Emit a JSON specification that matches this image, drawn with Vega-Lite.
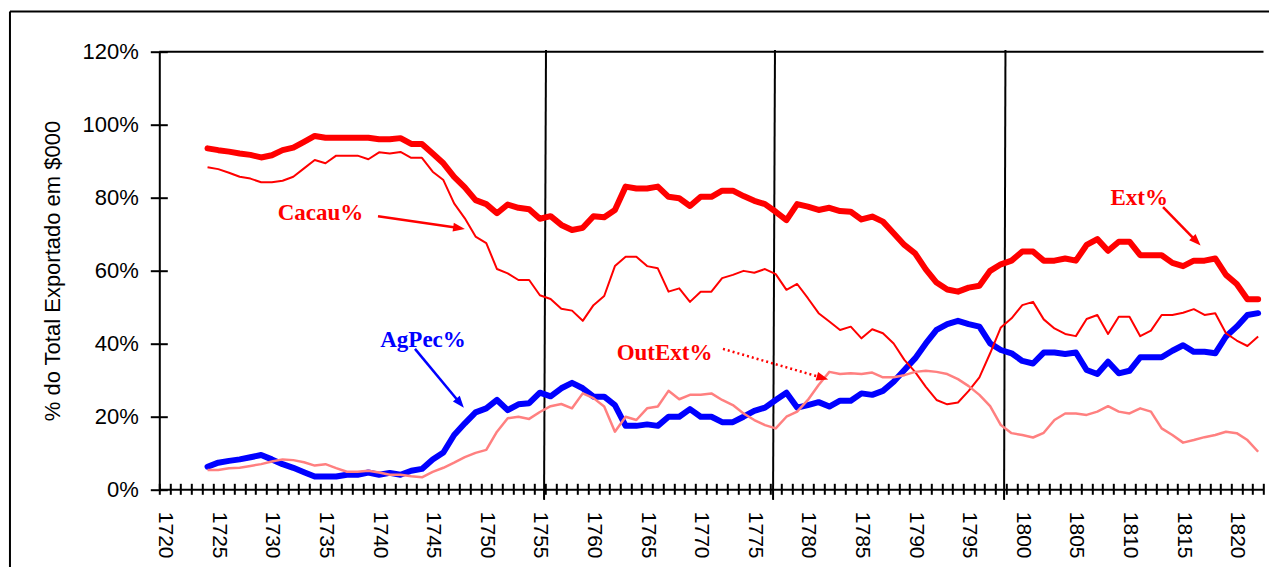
{
  "$schema": "https://vega.github.io/schema/vega-lite/v6.json",
  "width": 1104.2,
  "height": 437.6,
  "autosize": {"type": "none"},
  "padding": {"left": 159.3, "top": 51.7, "right": 5.5, "bottom": 77.7},
  "background": "white",
  "config": {"view": {"stroke": null}, "font": "Liberation Sans"},
  "datasets": {
    "series": [
      {"year":1724,"Ext":0.935,"Cacau":0.883,"AgPec":0.062,"OutExt":0.053},
      {"year":1725,"Ext":0.930,"Cacau":0.878,"AgPec":0.073,"OutExt":0.053},
      {"year":1726,"Ext":0.926,"Cacau":0.868,"AgPec":0.078,"OutExt":0.058},
      {"year":1727,"Ext":0.921,"Cacau":0.857,"AgPec":0.082,"OutExt":0.059},
      {"year":1728,"Ext":0.917,"Cacau":0.852,"AgPec":0.088,"OutExt":0.064},
      {"year":1729,"Ext":0.910,"Cacau":0.842,"AgPec":0.094,"OutExt":0.069},
      {"year":1730,"Ext":0.916,"Cacau":0.842,"AgPec":0.082,"OutExt":0.076},
      {"year":1731,"Ext":0.930,"Cacau":0.846,"AgPec":0.069,"OutExt":0.082},
      {"year":1732,"Ext":0.937,"Cacau":0.857,"AgPec":0.059,"OutExt":0.080},
      {"year":1733,"Ext":0.953,"Cacau":0.880,"AgPec":0.047,"OutExt":0.074},
      {"year":1734,"Ext":0.969,"Cacau":0.903,"AgPec":0.035,"OutExt":0.065},
      {"year":1735,"Ext":0.964,"Cacau":0.894,"AgPec":0.035,"OutExt":0.069},
      {"year":1736,"Ext":0.964,"Cacau":0.915,"AgPec":0.035,"OutExt":0.058},
      {"year":1737,"Ext":0.964,"Cacau":0.915,"AgPec":0.040,"OutExt":0.048},
      {"year":1738,"Ext":0.964,"Cacau":0.915,"AgPec":0.040,"OutExt":0.048},
      {"year":1739,"Ext":0.964,"Cacau":0.905,"AgPec":0.046,"OutExt":0.051},
      {"year":1740,"Ext":0.960,"Cacau":0.924,"AgPec":0.040,"OutExt":0.046},
      {"year":1741,"Ext":0.960,"Cacau":0.921,"AgPec":0.045,"OutExt":0.040},
      {"year":1742,"Ext":0.963,"Cacau":0.925,"AgPec":0.040,"OutExt":0.040},
      {"year":1743,"Ext":0.947,"Cacau":0.909,"AgPec":0.051,"OutExt":0.036},
      {"year":1744,"Ext":0.947,"Cacau":0.909,"AgPec":0.056,"OutExt":0.033},
      {"year":1745,"Ext":0.921,"Cacau":0.871,"AgPec":0.082,"OutExt":0.048},
      {"year":1746,"Ext":0.894,"Cacau":0.848,"AgPec":0.101,"OutExt":0.059},
      {"year":1747,"Ext":0.857,"Cacau":0.784,"AgPec":0.149,"OutExt":0.073},
      {"year":1748,"Ext":0.828,"Cacau":0.743,"AgPec":0.181,"OutExt":0.088},
      {"year":1749,"Ext":0.793,"Cacau":0.693,"AgPec":0.211,"OutExt":0.100},
      {"year":1750,"Ext":0.782,"Cacau":0.675,"AgPec":0.222,"OutExt":0.108},
      {"year":1751,"Ext":0.757,"Cacau":0.604,"AgPec":0.245,"OutExt":0.158},
      {"year":1752,"Ext":0.781,"Cacau":0.592,"AgPec":0.217,"OutExt":0.195},
      {"year":1753,"Ext":0.772,"Cacau":0.574,"AgPec":0.233,"OutExt":0.199},
      {"year":1754,"Ext":0.768,"Cacau":0.574,"AgPec":0.236,"OutExt":0.193},
      {"year":1755,"Ext":0.742,"Cacau":0.532,"AgPec":0.265,"OutExt":0.212},
      {"year":1756,"Ext":0.749,"Cacau":0.522,"AgPec":0.255,"OutExt":0.228},
      {"year":1757,"Ext":0.725,"Cacau":0.495,"AgPec":0.277,"OutExt":0.234},
      {"year":1758,"Ext":0.711,"Cacau":0.490,"AgPec":0.292,"OutExt":0.222},
      {"year":1759,"Ext":0.717,"Cacau":0.462,"AgPec":0.277,"OutExt":0.263},
      {"year":1760,"Ext":0.749,"Cacau":0.505,"AgPec":0.254,"OutExt":0.250},
      {"year":1761,"Ext":0.746,"Cacau":0.530,"AgPec":0.254,"OutExt":0.227},
      {"year":1762,"Ext":0.766,"Cacau":0.612,"AgPec":0.231,"OutExt":0.158},
      {"year":1763,"Ext":0.830,"Cacau":0.638,"AgPec":0.174,"OutExt":0.199},
      {"year":1764,"Ext":0.825,"Cacau":0.638,"AgPec":0.174,"OutExt":0.190},
      {"year":1765,"Ext":0.825,"Cacau":0.612,"AgPec":0.178,"OutExt":0.222},
      {"year":1766,"Ext":0.830,"Cacau":0.606,"AgPec":0.174,"OutExt":0.227},
      {"year":1767,"Ext":0.802,"Cacau":0.542,"AgPec":0.199,"OutExt":0.270},
      {"year":1768,"Ext":0.798,"Cacau":0.551,"AgPec":0.199,"OutExt":0.247},
      {"year":1769,"Ext":0.777,"Cacau":0.514,"AgPec":0.220,"OutExt":0.259},
      {"year":1770,"Ext":0.802,"Cacau":0.542,"AgPec":0.199,"OutExt":0.259},
      {"year":1771,"Ext":0.802,"Cacau":0.542,"AgPec":0.199,"OutExt":0.263},
      {"year":1772,"Ext":0.819,"Cacau":0.579,"AgPec":0.184,"OutExt":0.245},
      {"year":1773,"Ext":0.819,"Cacau":0.588,"AgPec":0.184,"OutExt":0.231},
      {"year":1774,"Ext":0.804,"Cacau":0.599,"AgPec":0.199,"OutExt":0.208},
      {"year":1775,"Ext":0.791,"Cacau":0.594,"AgPec":0.215,"OutExt":0.190},
      {"year":1776,"Ext":0.782,"Cacau":0.604,"AgPec":0.224,"OutExt":0.176},
      {"year":1777,"Ext":0.761,"Cacau":0.590,"AgPec":0.245,"OutExt":0.167},
      {"year":1778,"Ext":0.738,"Cacau":0.547,"AgPec":0.265,"OutExt":0.199},
      {"year":1779,"Ext":0.782,"Cacau":0.563,"AgPec":0.224,"OutExt":0.213},
      {"year":1780,"Ext":0.775,"Cacau":0.524,"AgPec":0.231,"OutExt":0.245},
      {"year":1781,"Ext":0.766,"Cacau":0.483,"AgPec":0.239,"OutExt":0.286},
      {"year":1782,"Ext":0.772,"Cacau":0.460,"AgPec":0.227,"OutExt":0.322},
      {"year":1783,"Ext":0.763,"Cacau":0.437,"AgPec":0.243,"OutExt":0.316},
      {"year":1784,"Ext":0.761,"Cacau":0.446,"AgPec":0.243,"OutExt":0.318},
      {"year":1785,"Ext":0.740,"Cacau":0.414,"AgPec":0.263,"OutExt":0.316},
      {"year":1786,"Ext":0.748,"Cacau":0.439,"AgPec":0.259,"OutExt":0.320},
      {"year":1787,"Ext":0.734,"Cacau":0.428,"AgPec":0.270,"OutExt":0.307},
      {"year":1788,"Ext":0.702,"Cacau":0.400,"AgPec":0.295,"OutExt":0.307},
      {"year":1789,"Ext":0.670,"Cacau":0.355,"AgPec":0.327,"OutExt":0.313},
      {"year":1790,"Ext":0.647,"Cacau":0.322,"AgPec":0.359,"OutExt":0.322},
      {"year":1791,"Ext":0.603,"Cacau":0.281,"AgPec":0.400,"OutExt":0.325},
      {"year":1792,"Ext":0.567,"Cacau":0.245,"AgPec":0.437,"OutExt":0.322},
      {"year":1793,"Ext":0.548,"Cacau":0.233,"AgPec":0.453,"OutExt":0.316},
      {"year":1794,"Ext":0.542,"Cacau":0.238,"AgPec":0.462,"OutExt":0.302},
      {"year":1795,"Ext":0.553,"Cacau":0.270,"AgPec":0.453,"OutExt":0.283},
      {"year":1796,"Ext":0.558,"Cacau":0.307,"AgPec":0.446,"OutExt":0.259},
      {"year":1797,"Ext":0.599,"Cacau":0.373,"AgPec":0.400,"OutExt":0.228},
      {"year":1798,"Ext":0.617,"Cacau":0.444,"AgPec":0.382,"OutExt":0.176},
      {"year":1799,"Ext":0.627,"Cacau":0.469,"AgPec":0.373,"OutExt":0.154},
      {"year":1800,"Ext":0.652,"Cacau":0.505,"AgPec":0.352,"OutExt":0.149},
      {"year":1801,"Ext":0.652,"Cacau":0.514,"AgPec":0.345,"OutExt":0.142},
      {"year":1802,"Ext":0.627,"Cacau":0.466,"AgPec":0.375,"OutExt":0.155},
      {"year":1803,"Ext":0.627,"Cacau":0.441,"AgPec":0.375,"OutExt":0.190},
      {"year":1804,"Ext":0.633,"Cacau":0.426,"AgPec":0.371,"OutExt":0.208},
      {"year":1805,"Ext":0.627,"Cacau":0.420,"AgPec":0.375,"OutExt":0.208},
      {"year":1806,"Ext":0.670,"Cacau":0.467,"AgPec":0.327,"OutExt":0.204},
      {"year":1807,"Ext":0.686,"Cacau":0.478,"AgPec":0.316,"OutExt":0.213},
      {"year":1808,"Ext":0.654,"Cacau":0.426,"AgPec":0.350,"OutExt":0.228},
      {"year":1809,"Ext":0.679,"Cacau":0.473,"AgPec":0.318,"OutExt":0.213},
      {"year":1810,"Ext":0.679,"Cacau":0.473,"AgPec":0.325,"OutExt":0.208},
      {"year":1811,"Ext":0.642,"Cacau":0.420,"AgPec":0.362,"OutExt":0.222},
      {"year":1812,"Ext":0.642,"Cacau":0.435,"AgPec":0.362,"OutExt":0.213},
      {"year":1813,"Ext":0.642,"Cacau":0.478,"AgPec":0.362,"OutExt":0.167},
      {"year":1814,"Ext":0.621,"Cacau":0.478,"AgPec":0.380,"OutExt":0.149},
      {"year":1815,"Ext":0.612,"Cacau":0.484,"AgPec":0.395,"OutExt":0.128},
      {"year":1816,"Ext":0.627,"Cacau":0.494,"AgPec":0.377,"OutExt":0.135},
      {"year":1817,"Ext":0.627,"Cacau":0.478,"AgPec":0.377,"OutExt":0.143},
      {"year":1818,"Ext":0.633,"Cacau":0.483,"AgPec":0.373,"OutExt":0.149},
      {"year":1819,"Ext":0.588,"Cacau":0.428,"AgPec":0.419,"OutExt":0.158},
      {"year":1820,"Ext":0.563,"Cacau":0.408,"AgPec":0.446,"OutExt":0.154},
      {"year":1821,"Ext":0.521,"Cacau":0.393,"AgPec":0.478,"OutExt":0.135},
      {"year":1822,"Ext":0.521,"Cacau":0.419,"AgPec":0.483,"OutExt":0.103}
    ],
    "dividers": [
      {"top": 1755.57, "bottom": 1755.39},
      {"top": 1776.93, "bottom": 1776.75},
      {"top": 1798.43, "bottom": 1798.30}
    ],
    "notes": [
      {"label": "Cacau%", "tx": 1734.54, "ty": 0.758, "ax": 1739.9, "ay": 0.749, "bx": 1747.46, "by": 0.7165},
      {"label": "AgPec%", "tx": 1744.1, "ty": 0.409, "ax": 1743.35, "ay": 0.385, "bx": 1747.56, "by": 0.236},
      {"label": "OutExt%", "tx": 1766.63, "ty": 0.374, "ax": 1772.08, "ay": 0.385, "bx": 1781.37, "by": 0.3055},
      {"label": "Ext%", "tx": 1810.9, "ty": 0.799, "ax": 1813.13, "ay": 0.774, "bx": 1816.25, "by": 0.68}
    ],
    "one": [{}]
  },
  "layer": [
    {
      "data": {"name": "one"},
      "mark": {"type": "rule", "color": "black", "strokeWidth": 2},
      "encoding": {
        "x": {"datum": 1705.57, "type": "quantitative", "scale": {"domain": [1719.5, 1822.5], "nice": false, "zero": false}, "axis": null},
        "y": {"datum": 1.3102, "type": "quantitative", "scale": {"domain": [0, 1.2], "nice": false, "zero": false}, "axis": null},
        "y2": {"datum": -0.4}
      }
    },
    {
      "data": {"name": "one"},
      "mark": {"type": "rule", "color": "black", "strokeWidth": 2},
      "encoding": {
        "x": {"datum": 1705.57, "type": "quantitative", "scale": {"domain": [1719.5, 1822.5], "nice": false, "zero": false}, "axis": null},
        "x2": {"datum": 1835},
        "y": {"datum": 1.3102, "type": "quantitative", "scale": {"domain": [0, 1.2], "nice": false, "zero": false}, "axis": null}
      }
    },
    {
      "data": {"name": "one"},
      "mark": {"type": "rule", "color": "black", "strokeWidth": 2},
      "encoding": {
        "x": {"datum": 1719.5, "type": "quantitative", "scale": {"domain": [1719.5, 1822.5], "nice": false, "zero": false}, "axis": null},
        "x2": {"datum": 1822.5},
        "y": {"datum": 1.2, "type": "quantitative", "scale": {"domain": [0, 1.2], "nice": false, "zero": false}, "axis": null}
      }
    },
    {
      "data": {"name": "dividers"},
      "mark": {"type": "rule", "color": "black", "strokeWidth": 2},
      "encoding": {
        "x": {"field": "top", "type": "quantitative", "scale": {"domain": [1719.5, 1822.5], "nice": false, "zero": false}, "axis": null},
        "x2": {"field": "bottom"},
        "y": {"datum": 1.2046, "type": "quantitative", "scale": {"domain": [0, 1.2], "nice": false, "zero": false}, "axis": null},
        "y2": {"datum": -0.029}
      }
    },
    {
      "data": {"name": "series"},
      "mark": {"type": "line", "color": "#FF0000", "strokeWidth": 6, "strokeJoin": "round", "strokeCap": "round"},
      "encoding": {
        "x": {"field": "year", "type": "quantitative", "scale": {"domain": [1719.5, 1822.5], "nice": false, "zero": false},
          "axis": {"orient": "bottom", "values": [1720,1725,1730,1735,1740,1745,1750,1755,1760,1765,1770,1775,1780,1785,1790,1795,1800,1805,1810,1815,1820],
            "format": "d", "ticks": false, "domain": true, "domainColor": "black", "domainWidth": 2, "grid": false, "title": null,
            "labelAngle": 90, "labelFont": "Liberation Sans", "labelFontSize": 21, "labelColor": "black", "labelPadding": 22,
            "labelOverlap": false, "labelFlush": false, "labelBound": false}},
        "y": {"field": "Ext", "type": "quantitative", "scale": {"domain": [0, 1.2], "nice": false, "zero": false},
          "axis": {"orient": "left", "values": [0, 0.2, 0.4, 0.6, 0.8, 1, 1.2], "format": ".0%", "ticks": false, "domain": true,
            "domainColor": "black", "domainWidth": 2, "grid": false,
            "labelFont": "Liberation Sans", "labelFontSize": 22, "labelColor": "black", "labelPadding": 21,
            "labelOverlap": false, "labelFlush": false, "labelBound": false,
            "title": "% do Total Exportado em $000", "titleFont": "Liberation Sans", "titleFontSize": 22,
            "titleFontWeight": "normal", "titleColor": "black", "titlePadding": 18}}
      }
    },
    {
      "data": {"name": "series"},
      "mark": {"type": "line", "color": "#0000FF", "strokeWidth": 6, "strokeJoin": "round", "strokeCap": "round"},
      "encoding": {
        "x": {"field": "year", "type": "quantitative", "scale": {"domain": [1719.5, 1822.5], "nice": false, "zero": false},
          "axis": {"orient": "bottom", "values": [1719.5,1720.5,1721.5,1722.5,1723.5,1724.5,1725.5,1726.5,1727.5,1728.5,1729.5,1730.5,1731.5,1732.5,1733.5,1734.5,1735.5,1736.5,1737.5,1738.5,1739.5,1740.5,1741.5,1742.5,1743.5,1744.5,1745.5,1746.5,1747.5,1748.5,1749.5,1750.5,1751.5,1752.5,1753.5,1754.5,1755.5,1756.5,1757.5,1758.5,1759.5,1760.5,1761.5,1762.5,1763.5,1764.5,1765.5,1766.5,1767.5,1768.5,1769.5,1770.5,1771.5,1772.5,1773.5,1774.5,1775.5,1776.5,1777.5,1778.5,1779.5,1780.5,1781.5,1782.5,1783.5,1784.5,1785.5,1786.5,1787.5,1788.5,1789.5,1790.5,1791.5,1792.5,1793.5,1794.5,1795.5,1796.5,1797.5,1798.5,1799.5,1800.5,1801.5,1802.5,1803.5,1804.5,1805.5,1806.5,1807.5,1808.5,1809.5,1810.5,1811.5,1812.5,1813.5,1814.5,1815.5,1816.5,1817.5,1818.5,1819.5,1820.5,1821.5,1822.5],
            "offset": -6, "ticks": true, "tickSize": 11, "tickWidth": 2, "tickColor": "black", "domain": false, "labels": false, "grid": false, "title": null}},
        "y": {"field": "AgPec", "type": "quantitative", "scale": {"domain": [0, 1.2], "nice": false, "zero": false},
          "axis": {"orient": "left", "values": [0, 0.2, 0.4, 0.6, 0.8, 1, 1.2], "offset": -8, "ticks": true, "tickSize": 17, "tickWidth": 2,
            "tickColor": "black", "domain": false, "labels": false, "grid": false, "title": null}}
      }
    },
    {
      "data": {"name": "series"},
      "mark": {"type": "line", "color": "#FF0000", "strokeWidth": 2, "strokeJoin": "round"},
      "encoding": {
        "x": {"field": "year", "type": "quantitative", "scale": {"domain": [1719.5, 1822.5], "nice": false, "zero": false}, "axis": null},
        "y": {"field": "Cacau", "type": "quantitative", "scale": {"domain": [0, 1.2], "nice": false, "zero": false}, "axis": null}
      }
    },
    {
      "data": {"name": "series"},
      "mark": {"type": "line", "color": "#FF8080", "strokeWidth": 2.5, "strokeJoin": "round"},
      "encoding": {
        "x": {"field": "year", "type": "quantitative", "scale": {"domain": [1719.5, 1822.5], "nice": false, "zero": false}, "axis": null},
        "y": {"field": "OutExt", "type": "quantitative", "scale": {"domain": [0, 1.2], "nice": false, "zero": false}, "axis": null}
      }
    },
    {
      "data": {"name": "notes"},
      "transform": [{"filter": "datum.label !== 'OutExt%'"}],
      "mark": {"type": "rule", "strokeWidth": 2.5},
      "encoding": {
        "x": {"field": "ax", "type": "quantitative", "scale": {"domain": [1719.5, 1822.5], "nice": false, "zero": false}, "axis": null},
        "y": {"field": "ay", "type": "quantitative", "scale": {"domain": [0, 1.2], "nice": false, "zero": false}, "axis": null},
        "x2": {"field": "bx"},
        "y2": {"field": "by"},
        "color": {"field": "label", "type": "nominal", "scale": {"domain": ["Cacau%", "AgPec%", "OutExt%", "Ext%"], "range": ["#FF0000", "#0000FF", "#FF0000", "#FF0000"]}, "legend": null}
      }
    },
    {
      "data": {"name": "notes"},
      "transform": [{"filter": "datum.label === 'OutExt%'"}],
      "mark": {"type": "rule", "strokeWidth": 2.5, "strokeDash": [2, 3]},
      "encoding": {
        "x": {"field": "ax", "type": "quantitative", "scale": {"domain": [1719.5, 1822.5], "nice": false, "zero": false}, "axis": null},
        "y": {"field": "ay", "type": "quantitative", "scale": {"domain": [0, 1.2], "nice": false, "zero": false}, "axis": null},
        "x2": {"field": "bx"},
        "y2": {"field": "by"},
        "color": {"field": "label", "type": "nominal", "scale": {"domain": ["Cacau%", "AgPec%", "OutExt%", "Ext%"], "range": ["#FF0000", "#0000FF", "#FF0000", "#FF0000"]}, "legend": null}
      }
    },
    {
      "data": {"name": "notes"},
      "transform": [{"filter": "datum.label === 'Cacau%'"}],
      "mark": {"type": "point", "shape": "M0,-1L0.75,1L-0.75,1Z", "filled": true, "opacity": 1, "size": 140, "angle": 98.4},
      "encoding": {
        "x": {"field": "bx", "type": "quantitative", "scale": {"domain": [1719.5, 1822.5], "nice": false, "zero": false}, "axis": null},
        "y": {"field": "by", "type": "quantitative", "scale": {"domain": [0, 1.2], "nice": false, "zero": false}, "axis": null},
        "color": {"field": "label", "type": "nominal", "scale": {"domain": ["Cacau%", "AgPec%", "OutExt%", "Ext%"], "range": ["#FF0000", "#0000FF", "#FF0000", "#FF0000"]}, "legend": null}
      }
    },
    {
      "data": {"name": "notes"},
      "transform": [{"filter": "datum.label === 'AgPec%'"}],
      "mark": {"type": "point", "shape": "M0,-1L0.75,1L-0.75,1Z", "filled": true, "opacity": 1, "size": 140, "angle": 140.4},
      "encoding": {
        "x": {"field": "bx", "type": "quantitative", "scale": {"domain": [1719.5, 1822.5], "nice": false, "zero": false}, "axis": null},
        "y": {"field": "by", "type": "quantitative", "scale": {"domain": [0, 1.2], "nice": false, "zero": false}, "axis": null},
        "color": {"field": "label", "type": "nominal", "scale": {"domain": ["Cacau%", "AgPec%", "OutExt%", "Ext%"], "range": ["#FF0000", "#0000FF", "#FF0000", "#FF0000"]}, "legend": null}
      }
    },
    {
      "data": {"name": "notes"},
      "transform": [{"filter": "datum.label === 'OutExt%'"}],
      "mark": {"type": "point", "shape": "M0,-1L0.75,1L-0.75,1Z", "filled": true, "opacity": 1, "size": 140, "angle": 106},
      "encoding": {
        "x": {"field": "bx", "type": "quantitative", "scale": {"domain": [1719.5, 1822.5], "nice": false, "zero": false}, "axis": null},
        "y": {"field": "by", "type": "quantitative", "scale": {"domain": [0, 1.2], "nice": false, "zero": false}, "axis": null},
        "color": {"field": "label", "type": "nominal", "scale": {"domain": ["Cacau%", "AgPec%", "OutExt%", "Ext%"], "range": ["#FF0000", "#0000FF", "#FF0000", "#FF0000"]}, "legend": null}
      }
    },
    {
      "data": {"name": "notes"},
      "transform": [{"filter": "datum.label === 'Ext%'"}],
      "mark": {"type": "point", "shape": "M0,-1L0.75,1L-0.75,1Z", "filled": true, "opacity": 1, "size": 140, "angle": 135.8},
      "encoding": {
        "x": {"field": "bx", "type": "quantitative", "scale": {"domain": [1719.5, 1822.5], "nice": false, "zero": false}, "axis": null},
        "y": {"field": "by", "type": "quantitative", "scale": {"domain": [0, 1.2], "nice": false, "zero": false}, "axis": null},
        "color": {"field": "label", "type": "nominal", "scale": {"domain": ["Cacau%", "AgPec%", "OutExt%", "Ext%"], "range": ["#FF0000", "#0000FF", "#FF0000", "#FF0000"]}, "legend": null}
      }
    },
    {
      "data": {"name": "notes"},
      "mark": {"type": "text", "font": "Liberation Serif", "fontWeight": "bold", "fontSize": 23, "align": "center", "baseline": "middle"},
      "encoding": {
        "x": {"field": "tx", "type": "quantitative", "scale": {"domain": [1719.5, 1822.5], "nice": false, "zero": false}, "axis": null},
        "y": {"field": "ty", "type": "quantitative", "scale": {"domain": [0, 1.2], "nice": false, "zero": false}, "axis": null},
        "text": {"field": "label"},
        "color": {"field": "label", "type": "nominal", "scale": {"domain": ["Cacau%", "AgPec%", "OutExt%", "Ext%"], "range": ["#FF0000", "#0000FF", "#FF0000", "#FF0000"]}, "legend": null}
      }
    }
  ],
  "resolve": {"axis": {"x": "independent", "y": "independent"}}
}
